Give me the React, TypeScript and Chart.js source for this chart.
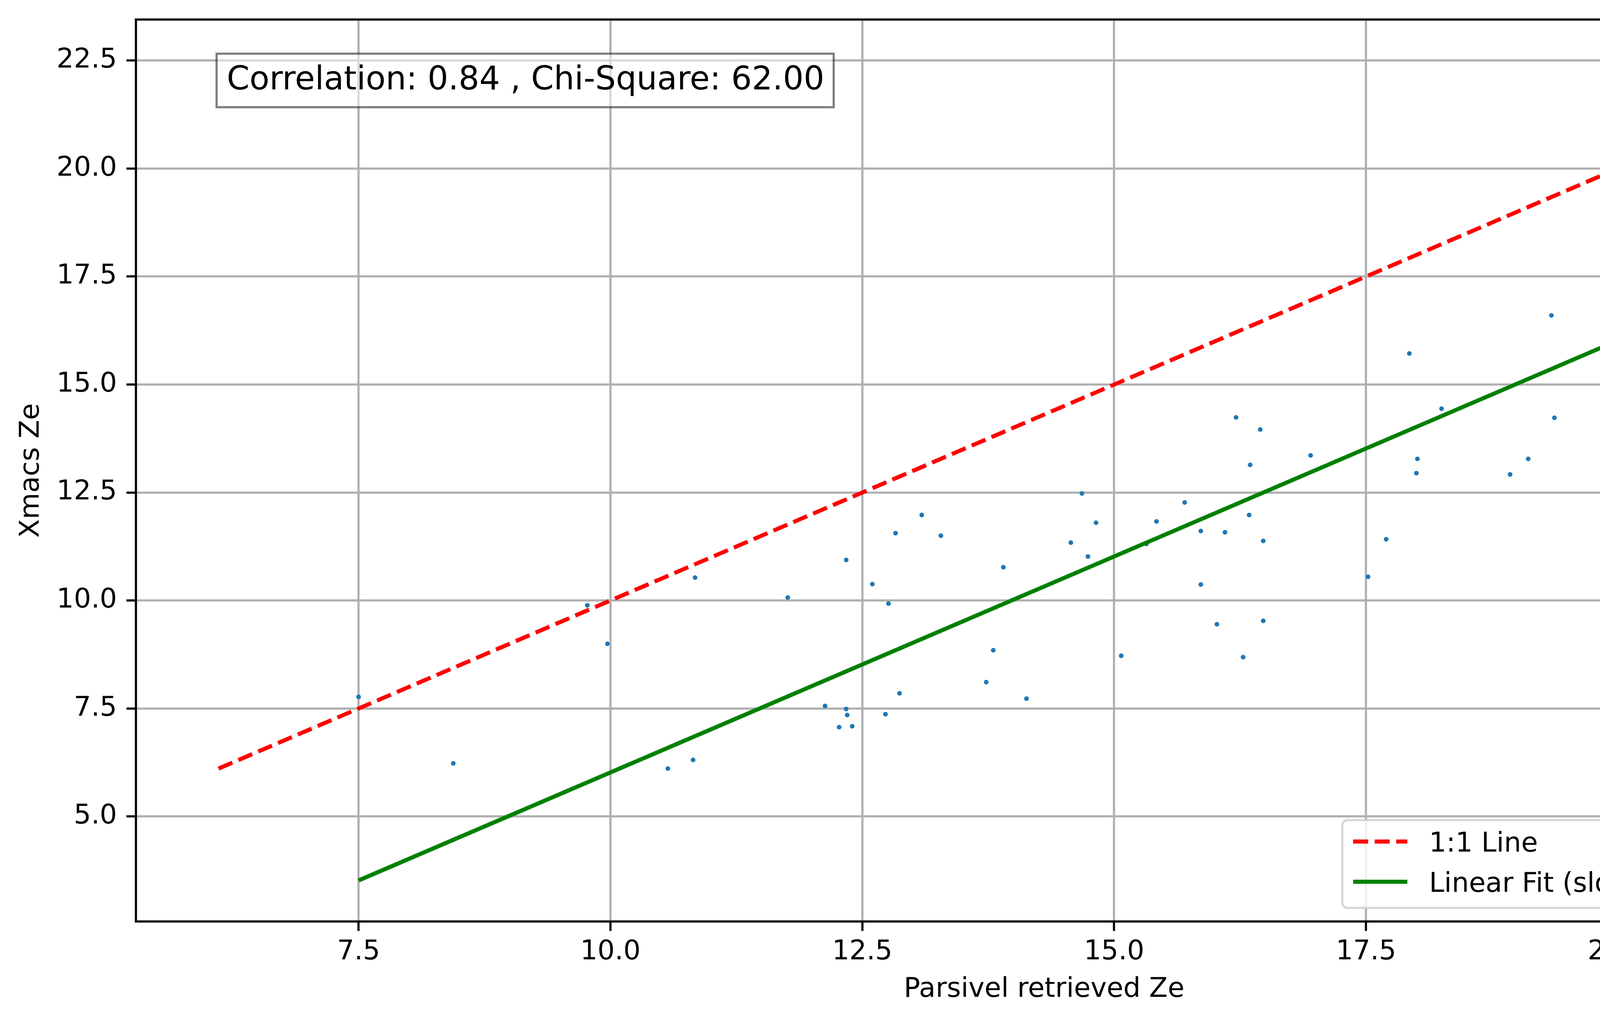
import { useEffect, useRef } from 'react'
import { Chart, registerables } from 'chart.js'

Chart.register(...registerables)

// Parsivel retrieved Ze (x) vs Xmacs Ze (y)
const parsivelZe = [
  7.50, 8.44, 9.77, 9.97, 10.57, 10.82, 10.84, 11.76, 12.13, 12.27, 12.34, 12.34, 12.35, 12.40, 12.60,
  12.73, 12.76, 12.83, 12.87, 13.09, 13.28, 13.73, 13.80, 13.90, 14.13, 14.57, 14.68, 14.74, 14.82, 15.07,
  15.32, 15.42, 15.70, 15.86, 15.86, 16.02, 16.10, 16.21, 16.28, 16.34, 16.35, 16.45, 16.48, 16.48, 16.95,
  17.52, 17.70, 17.93, 18.00, 18.01, 18.25, 18.93, 19.11, 19.34, 19.37, 20.32, 20.34, 20.75, 20.96, 21.31,
  21.47, 22.50,
]
const xmacsZe = [
  7.77, 6.23, 9.89, 9.00, 6.11, 6.31, 10.53, 10.07, 7.56, 7.07, 10.94, 7.49, 7.35, 7.09, 10.38,
  7.37, 9.93, 11.56, 7.85, 11.98, 11.50, 8.11, 8.85, 10.77, 7.73, 11.34, 12.48, 11.02, 11.80, 8.72,
  11.31, 11.83, 12.27, 11.61, 10.37, 9.45, 11.58, 14.24, 8.69, 11.98, 13.14, 13.96, 11.38, 9.53, 13.36,
  10.55, 11.42, 15.72, 12.95, 13.28, 14.44, 12.92, 13.28, 16.60, 14.23, 16.82, 16.35, 16.29, 15.62, 17.29,
  16.29, 15.94,
]

const fitSlope = 1
const fitIntercept = -3.98
const correlation = 0.84
const chiSquare = 62.0

const xTicks = [7.5, 10, 12.5, 15, 17.5, 20, 22.5]
const yTicks = [5, 7.5, 10, 12.5, 15, 17.5, 20, 22.5]
const xRange = [5.29, 23.32]
const yRange = [2.57, 23.45]

const FONT = '"DejaVu Sans", sans-serif'
const PT = 500 / 72 // px per point

export default function App() {
  const canvasRef = useRef<HTMLCanvasElement>(null)

  useEffect(() => {
    if (!canvasRef.current) return
    const ctx = canvasRef.current.getContext('2d')
    if (!ctx) return

    const allVals = [...parsivelZe, ...xmacsZe]
    const lo = Math.min(...allVals)
    const hi = Math.max(...allVals)
    const xLo = Math.min(...parsivelZe)
    const xHi = Math.max(...parsivelZe)

    const points = parsivelZe.map((x, i) => ({ x, y: xmacsZe[i] }))
    const oneToOne = [{ x: lo, y: lo }, { x: hi, y: hi }]
    const fitLine = [xLo, xHi].map(x => ({ x, y: fitSlope * x + fitIntercept }))

    // ── frame, stats box, legend ───────────────────────────────────────────
    const decorPlugin = {
      id: 'decor',
      afterDatasetsDraw(chart: any) {
        const { ctx: c, chartArea: a } = chart
        c.save()
        c.strokeStyle = '#000'
        c.lineWidth = 0.8 * PT
        c.strokeRect(a.left, a.top, a.right - a.left, a.bottom - a.top)
        c.restore()
      },
      afterDraw(chart: any) {
        const { ctx: c, chartArea: a } = chart
        const w = a.right - a.left
        const h = a.bottom - a.top
        c.save()

        // stats box
        const note = `Correlation: ${correlation.toFixed(2)} , Chi-Square: ${chiSquare.toFixed(2)}`
        c.font = `${12 * PT}px ${FONT}`
        const tw = c.measureText(note).width
        const tx = a.left + 0.05 * w
        const bx = tx - 26
        const by = a.top + 0.05 * h - 28
        const bw = tw + 50
        const bh = 137
        c.fillStyle = 'rgba(255,255,255,0.5)'
        c.fillRect(bx, by, bw, bh)
        c.strokeStyle = 'rgba(0,0,0,0.5)'
        c.lineWidth = 0.8 * PT
        c.strokeRect(bx, by, bw, bh)
        c.fillStyle = '#000'
        c.textAlign = 'left'
        c.textBaseline = 'alphabetic'
        c.fillText(note, tx, by + 91)

        // legend (lower right)
        const em = 10 * PT
        c.font = `${em}px ${FONT}`
        const items = chart.data.datasets.slice(1)
        const maxW = Math.max(...items.map((d: any) => c.measureText(d.label).width))
        const right = a.right - 0.5 * em
        const bottom = a.bottom - 0.5 * em
        const lw = 0.4 * em * 2 + 2 * em + 0.8 * em + maxW
        const left = right - lw
        const top = bottom - 225
        c.beginPath()
        c.roundRect(left, top, lw, bottom - top, 14)
        c.fillStyle = 'rgba(255,255,255,0.8)'
        c.fill()
        c.strokeStyle = 'rgba(204,204,204,0.8)'
        c.lineWidth = 0.8 * PT
        c.stroke()
        items.forEach((d: any, i: number) => {
          const yc = bottom - 170 + i * 103
          const hx = left + 0.4 * em
          c.beginPath()
          c.setLineDash(d.borderDash || [])
          c.strokeStyle = d.borderColor
          c.lineWidth = d.borderWidth
          c.lineCap = 'butt'
          c.moveTo(hx, yc)
          c.lineTo(hx + 2 * em, yc)
          c.stroke()
          c.setLineDash([])
          c.fillStyle = '#000'
          c.fillText(d.label, hx + 2.8 * em, yc + 26)
        })
        c.restore()
      },
    }

    const tickFont = { family: FONT, size: 10 * PT }
    const grid = {
      color: '#b0b0b0',
      lineWidth: 0.8 * PT,
      tickLength: 3.5 * PT,
      tickColor: '#000',
      tickWidth: 0.8 * PT,
    }

    const chart = new Chart(ctx, {
      type: 'scatter',
      plugins: [decorPlugin],
      data: {
        datasets: [
          {
            label: 'data',
            data: points,
            backgroundColor: '#1f77b4',
            borderWidth: 0,
            pointRadius: 6,
            order: 3,
          },
          {
            type: 'line',
            label: '1:1 Line',
            data: oneToOne,
            borderColor: '#ff0000',
            borderWidth: 1.5 * PT,
            borderDash: [5.55 * PT, 2.4 * PT],
            pointRadius: 0,
            showLine: true,
            fill: false,
            order: 2,
          },
          {
            type: 'line',
            label: `Linear Fit (slope=${fitSlope}, intercept=${fitIntercept})`,
            data: fitLine,
            borderColor: '#008000',
            borderWidth: 1.5 * PT,
            pointRadius: 0,
            showLine: true,
            fill: false,
            order: 1,
          },
        ] as any,
      },
      options: {
        responsive: true,
        maintainAspectRatio: false,
        animation: false,
        layout: { padding: { left: 0, top: 50, right: 50, bottom: 0 } },
        plugins: {
          legend: { display: false },
          tooltip: { enabled: false },
        },
        scales: {
          x: {
            type: 'linear',
            min: xRange[0],
            max: xRange[1],
            afterBuildTicks: (s: any) => { s.ticks = xTicks.map(v => ({ value: v })) },
            afterFit: (s: any) => { s.height = 260; s.paddingLeft = 0; s.paddingRight = 0 },
            ticks: {
              color: '#000',
              font: tickFont,
              padding: 13,
              maxRotation: 0,
              autoSkip: false,
              callback: (v: any) => Number(v).toFixed(1),
            },
            grid,
            border: { display: false },
            title: {
              display: true,
              text: 'Parsivel retrieved Ze',
              color: '#000',
              font: tickFont,
              padding: { top: 0, bottom: 43 },
            },
          },
          y: {
            type: 'linear',
            min: yRange[0],
            max: yRange[1],
            afterBuildTicks: (s: any) => { s.ticks = yTicks.map(v => ({ value: v })) },
            afterFit: (s: any) => { s.width = 348; s.paddingTop = 0; s.paddingBottom = 0 },
            ticks: {
              color: '#000',
              font: tickFont,
              padding: 3.5 * PT,
              autoSkip: false,
              callback: (v: any) => Number(v).toFixed(1),
            },
            grid,
            border: { display: false },
            title: {
              display: true,
              text: 'Xmacs Ze',
              color: '#000',
              font: tickFont,
              padding: { top: 39, bottom: 0 },
            },
          },
        },
      },
    } as any)

    return () => { chart.destroy() }
  }, [])

  return (
    <div style={{ position: 'fixed', left: 0, top: 0, width: 5048, height: 2620, background: '#fff' }}>
      <canvas ref={canvasRef} role="img" aria-label="Xmacs Ze vs Parsivel retrieved Ze" />
    </div>
  )
}
